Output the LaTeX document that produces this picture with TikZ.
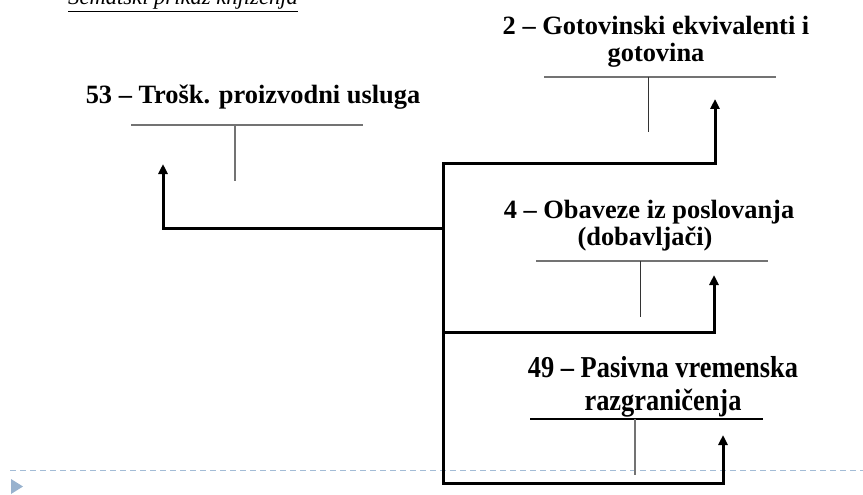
\documentclass[tikz,border=0pt]{standalone}
\usepackage{fontspec}
\setmainfont{Liberation Serif}
\usetikzlibrary{arrows.meta}
\definecolor{dashblue}{HTML}{A3BCD6}
\definecolor{tribl}{HTML}{98B2CE}
\begin{document}
\begin{tikzpicture}[x=1pt,y=-1pt,
  acct/.style={font=\bfseries\fontsize{26.4}{27}\selectfont, align=center, inner sep=0pt, anchor=base},
  tall/.style={yscale=1.15},
  tline/.style={draw=gray!90!black, line width=1.3pt},
  flow/.style={draw=black, line width=3pt, line join=miter, -{Triangle[length=10pt,width=9pt]}},
  hub/.style={draw=black, line width=3pt, line cap=rect}]
\useasboundingbox (0,0) rectangle (863,495);
% title
\node[font=\itshape\fontsize{22.6}{24}\selectfont, anchor=base west, inner sep=0pt] (title) at (68,5) {\underline{Šematski prikaz knjiženja}};
% slide decoration
\draw[dashblue, line width=1pt, dash pattern=on 6pt off 4pt] (10,470) -- (863,470);
\fill[tribl] (11,479) -- (23,486.5) -- (11,494) -- cycle;
% account 53
\node[acct] (t53) at (253,103) {53 – Trošk. proizvodni usluga};
\coordinate (a53l) at (131,125); \coordinate (a53r) at (363,125);
\coordinate (a53t) at (235,125); \coordinate (a53b) at (235,181);
\draw[tline] (a53l) -- (a53r); \draw[tline] (a53t) -- (a53b);
% account 2
\node[acct] (t2) at (656,35) {2 – Gotovinski ekvivalenti i};
\node[acct] (t2b) at (656,62) {gotovina};
\coordinate (a2l) at (544,77); \coordinate (a2r) at (776,77);
\coordinate (a2t) at (648,77); \coordinate (a2b) at (648,132);
\draw[tline] (a2l) -- (a2r); \draw[tline, draw=black!80, line width=1pt] (a2t) -- (a2b);
% account 4
\node[acct] (t4) at (649,218) {4 – Obaveze iz poslovanja};
\node[acct] (t4b) at (645,245) {(dobavljači)};
\coordinate (a4l) at (536,261); \coordinate (a4r) at (768,261);
\coordinate (a4t) at (640,261); \coordinate (a4b) at (640,317);
\draw[tline] (a4l) -- (a4r); \draw[tline, draw=black!80, line width=1pt] (a4t) -- (a4b);
% account 49
\node[acct, tall] (t49) at (663,377) {49 – Pasivna vremenska};
\node[acct, tall] (t49b) at (663,410) {razgraničenja};
\coordinate (a49l) at (530,419); \coordinate (a49r) at (763,419);
\coordinate (a49t) at (635,419); \coordinate (a49b) at (635,475);
\draw[draw=black, line width=1.3pt] (a49l) -- (a49r); \draw[tline] (a49t) -- (a49b);
% hub and flows
\coordinate (htop) at (443,163); \coordinate (hbot) at (443,483);
\coordinate (h53) at (443,228); \coordinate (h4) at (443,332);
\coordinate (e53) at (163,164); \coordinate (e2) at (715,99);
\coordinate (e4) at (714,275); \coordinate (e49) at (723,435);
\draw[hub] (htop) -- (hbot);
\draw[flow] (htop) -| (e2);
\draw[flow] (h53) -| (e53);
\draw[flow] (h4) -| (e4);
\draw[flow] (hbot) -| (e49);
\end{tikzpicture}
\end{document}
